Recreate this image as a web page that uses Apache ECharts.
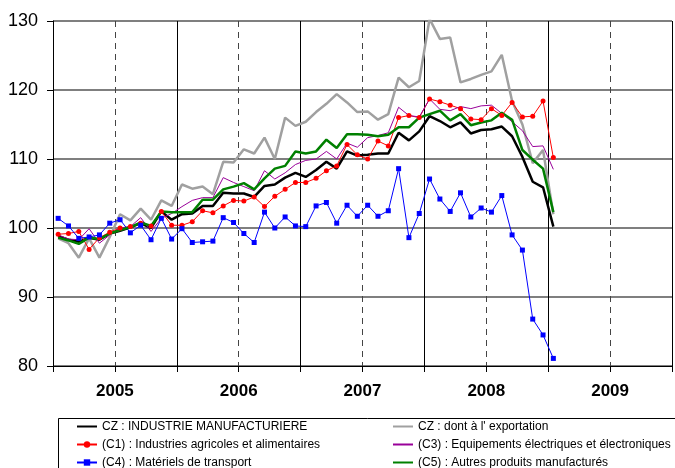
<!DOCTYPE html>
<html>
<head>
<meta charset="utf-8">
<script src="https://cdn.jsdelivr.net/npm/echarts@6/dist/echarts.min.js"></script>
<style>
  html, body { margin: 0; padding: 0; background: #fff; }
  #main { width: 675px; height: 468px; }
</style>
</head>
<body>
<div id="main"></div>
<script>
// monthly index, jan 2005 -> jan 2009
var yearLabels = ['2005', '2006', '2007', '2008', '2009'];

var czManuf = [98.8, 98.3, 98.0, 98.6, 98.3, 99.2, 99.6, 100.1, 100.7, 100.0, 102.4, 101.2,
  102.0, 102.1, 103.2, 103.2, 105.1, 105.0, 105.0, 104.5, 106.1, 106.3, 107.3, 108.0,
  107.4, 108.4, 109.6, 108.6, 111.1, 110.5, 110.6, 110.8, 110.8, 113.8, 112.7, 114.0,
  116.2, 115.5, 114.6, 115.3, 113.7, 114.2, 114.3, 114.7, 113.3, 110.3, 106.7, 105.9,
  100.2];
var czExport = [98.5, 97.8, 95.7, 98.5, 95.7, 98.7, 102.0, 101.1, 102.8, 101.2, 104.0, 103.2,
  106.3, 105.7, 106.0, 104.9, 109.6, 109.5, 111.4, 110.8, 113.1, 110.0, 116.0, 114.8,
  115.4, 116.8, 118.0, 119.4, 118.2, 116.8, 116.9, 115.7, 116.5, 121.8, 120.4, 121.3,
  130.3, 127.4, 127.6, 121.1, 121.6, 122.2, 122.7, 125.1, 118.4, 115.0, 109.4, 111.3,
  102.0];
var c1Agri = [99.1, 99.2, 99.5, 96.9, 98.6, 99.4, 100.0, 100.2, 100.7, 100.3, 102.4, 100.4,
  100.4, 100.9, 102.5, 102.2, 103.2, 104.0, 103.9, 104.5, 103.1, 104.6, 105.6, 106.6,
  106.6, 107.2, 108.3, 109.0, 112.1, 110.6, 110.0, 112.6, 111.9, 116.0, 116.3, 116.0,
  118.7, 118.3, 117.8, 117.3, 115.8, 115.7, 117.3, 116.3, 118.2, 116.1, 116.2, 118.4,
  110.2];
var c3Elec = [99.0, 98.4, 98.3, 99.9, 97.8, 99.0, 100.0, 100.2, 101.5, 99.5, 101.4, 102.1,
  103.1, 104.0, 104.4, 104.4, 107.3, 106.6, 106.0, 105.4, 108.3, 107.1, 108.0, 109.2,
  109.8, 110.0, 111.1, 110.0, 112.3, 111.7, 113.1, 113.4, 113.8, 117.5, 116.3, 116.1,
  118.7, 117.2, 117.0, 117.6, 117.3, 117.7, 117.8, 116.6, 115.4, 114.1, 111.8, 111.9,
  108.5];
var c4Transp = [101.4, 100.3, 98.5, 98.7, 99.0, 100.7, 101.2, 99.3, 100.4, 98.3, 101.4, 98.4,
  99.9, 97.9, 98.0, 98.1, 101.5, 100.8, 99.2, 97.9, 102.3, 100.0, 101.6, 100.3,
  100.2, 103.2, 103.7, 100.7, 103.3, 101.7, 103.3, 101.7, 102.5, 108.6, 98.6, 102.1,
  107.1, 104.2, 102.4, 105.1, 101.6, 102.9, 102.3, 104.7, 99.0, 96.8, 86.8, 84.5,
  81.1];
var c5Autres = [98.6, 98.2, 97.7, 98.6, 98.4, 99.2, 99.7, 100.1, 100.8, 100.3, 102.4, 102.3,
  102.3, 102.3, 104.1, 104.1, 105.6, 106.0, 106.5, 105.6, 107.2, 108.6, 109.0, 111.1,
  110.8, 111.1, 112.8, 111.6, 113.6, 113.6, 113.5, 113.3, 113.5, 114.6, 114.6, 116.0,
  116.5, 117.0, 115.6, 116.5, 114.9, 115.3, 115.6, 116.7, 115.7, 111.3, 109.9, 108.6,
  102.3];

var names = [
  'CZ : INDUSTRIE MANUFACTURIERE',
  'CZ : dont à l\' exportation',
  '(C1) : Industries agricoles et alimentaires',
  '(C3) : Equipements électriques et électroniques',
  '(C4) : Matériels de transport',
  '(C5) : Autres produits manufacturés'
];

function pts(arr) {
  // each month sits in the middle of its slot
  return arr.map(function (v, i) { return [i + 0.5, v]; });
}

// legend entry: plain line (no marker) or line + marker
function lineOnly(name) { return { name: name, itemStyle: { opacity: 0 } }; }

var myChart = echarts.init(document.getElementById('main'));
var font = 'Liberation Sans, Arial, sans-serif';

var legendText = { fontFamily: font, fontSize: 12, color: '#000', lineHeight: 13 };

var option = {
  animation: false,
  grid: { left: 53, top: 21, width: 632, height: 345 },
  xAxis: [
    {
      type: 'value', min: 0, max: 60, interval: 6,
      axisLine: { show: true, lineStyle: { color: '#000', width: 1 } },
      axisTick: { show: true, length: 6, lineStyle: { color: '#000' } },
      axisLabel: {
        margin: 17,
        fontFamily: font, fontSize: 17, fontWeight: 'bold', color: '#000',
        formatter: function (v) {
          return v % 12 === 6 ? yearLabels[(v - 6) / 12] : '';
        }
      },
      splitLine: { show: true, lineStyle: { color: '#444', type: [6, 5], width: 1 } }
    },
    {
      type: 'value', min: 0, max: 60, interval: 12, position: 'bottom',
      axisLine: { show: false }, axisTick: { show: false }, axisLabel: { show: false },
      splitLine: { show: true, lineStyle: { color: '#000', width: 1 } }
    }
  ],
  yAxis: {
    type: 'value', min: 80, max: 130, interval: 10,
    axisLine: { show: true, lineStyle: { color: '#000' } },
    axisTick: { show: true, length: 6, lineStyle: { color: '#000' } },
    axisLabel: { margin: 15, fontFamily: font, fontSize: 18, color: '#000' },
    splitLine: { show: true, lineStyle: { color: '#555', width: 1.5 } }
  },
  legend: [
    {
      orient: 'vertical', left: 76, top: 420, height: 60, padding: 0,
      itemWidth: 20, itemHeight: 8, itemGap: 5,
      textStyle: legendText,
      data: [lineOnly(names[0]), names[2], names[4]]
    },
    {
      orient: 'vertical', left: 392, top: 420, height: 60, padding: 0,
      itemWidth: 20, itemHeight: 8, itemGap: 5,
      textStyle: legendText,
      data: [lineOnly(names[1]), lineOnly(names[3]), lineOnly(names[5])]
    }
  ],
  graphic: [{
    type: 'rect', left: 56, top: 416,
    shape: { width: 640, height: 70 },
    style: { fill: 'none', stroke: '#000', lineWidth: 1 }
  }],
  series: [
    {
      name: names[0], type: 'line', data: pts(czManuf),
      showSymbol: false, symbol: 'none', color: '#000',
      lineStyle: { width: 2.5 }
    },
    {
      name: names[1], type: 'line', data: pts(czExport),
      showSymbol: false, symbol: 'none', color: '#a0a0a0',
      lineStyle: { width: 2.5 }
    },
    {
      name: names[2], type: 'line', data: pts(c1Agri),
      symbol: 'circle', symbolSize: 5, color: '#ff0000',
      lineStyle: { width: 1 }
    },
    {
      name: names[3], type: 'line', data: pts(c3Elec),
      showSymbol: false, symbol: 'none', color: '#990099',
      lineStyle: { width: 1 }
    },
    {
      name: names[4], type: 'line', data: pts(c4Transp),
      symbol: 'rect', symbolSize: 5, color: '#0000ff',
      lineStyle: { width: 1 }
    },
    {
      name: names[5], type: 'line', data: pts(c5Autres),
      showSymbol: false, symbol: 'none', color: '#008000',
      lineStyle: { width: 2.5 }
    }
  ]
};
myChart.setOption(option);
</script>
</body>
</html>
